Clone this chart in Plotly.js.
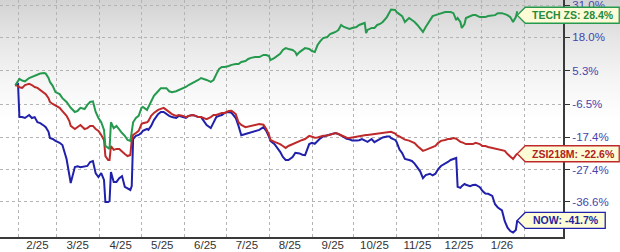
<!DOCTYPE html>
<html><head><meta charset="utf-8">
<script src="https://cdn.plot.ly/plotly-3.0.1.min.js"></script>
<style>
html,body{margin:0;padding:0;background:#fff;}
#chart{width:620px;height:252px;background:linear-gradient(to bottom,#d2d2d2 0px,#e6e6e6 40px,#f5f5f5 80px,#ffffff 120px);}
</style></head><body><div id="chart"></div>
<script>
// ---- data (percent change since start) ----
const dates = ['2025-01-30','2025-02-01','2025-02-02','2025-02-04','2025-02-06','2025-02-09','2025-02-11','2025-02-13','2025-02-15','2025-02-17','2025-02-20','2025-02-21','2025-02-23','2025-02-24','2025-02-26','2025-02-28',
'2025-03-03','2025-03-05','2025-03-08','2025-03-10','2025-03-11','2025-03-14','2025-03-16','2025-03-18','2025-03-21','2025-03-23','2025-03-25','2025-03-27','2025-03-29','2025-03-31',
'2025-04-02','2025-04-04','2025-04-05','2025-04-07','2025-04-08','2025-04-09','2025-04-11','2025-04-13','2025-04-15','2025-04-17','2025-04-19','2025-04-21','2025-04-23','2025-04-24','2025-04-25','2025-04-27','2025-04-29',
'2025-05-01','2025-05-02','2025-05-05','2025-05-06','2025-05-08','2025-05-10','2025-05-13','2025-05-15','2025-05-17','2025-05-19','2025-05-21','2025-05-23','2025-05-26','2025-05-28','2025-05-31',
'2025-06-02','2025-06-04','2025-06-07','2025-06-09','2025-06-11','2025-06-13','2025-06-15','2025-06-17','2025-06-20','2025-06-22','2025-06-24','2025-06-26','2025-06-28','2025-06-30',
'2025-07-03','2025-07-05','2025-07-08','2025-07-10','2025-07-12','2025-07-15','2025-07-17','2025-07-19','2025-07-22','2025-07-25','2025-07-28','2025-07-30',
'2025-08-01','2025-08-02','2025-08-05','2025-08-07','2025-08-09','2025-08-11','2025-08-13','2025-08-15','2025-08-18','2025-08-20','2025-08-21','2025-08-23','2025-08-25','2025-08-27','2025-08-30',
'2025-09-01','2025-09-03','2025-09-05','2025-09-07','2025-09-09','2025-09-12','2025-09-14','2025-09-16','2025-09-18','2025-09-20','2025-09-22','2025-09-24','2025-09-26','2025-09-28','2025-09-30',
'2025-10-03','2025-10-05','2025-10-07','2025-10-09','2025-10-10','2025-10-11','2025-10-14','2025-10-16','2025-10-18','2025-10-20','2025-10-22','2025-10-25','2025-10-27','2025-10-28','2025-10-31',
'2025-11-01','2025-11-03','2025-11-05','2025-11-07','2025-11-10','2025-11-12','2025-11-14','2025-11-16','2025-11-18','2025-11-20','2025-11-22','2025-11-25','2025-11-27','2025-11-29',
'2025-12-01','2025-12-03','2025-12-06','2025-12-08','2025-12-10','2025-12-12','2025-12-14','2025-12-15','2025-12-17','2025-12-18','2025-12-20','2025-12-21','2025-12-24','2025-12-26','2025-12-28','2025-12-31',
'2026-01-02','2026-01-04','2026-01-06','2026-01-09','2026-01-11','2026-01-13','2026-01-16','2026-01-18','2026-01-20','2026-01-22','2026-01-24','2026-01-26','2026-01-27'];

const techZS = [0.0,1.9,2.3,1.7,1.4,2.6,3.0,3.3,3.7,4.2,4.4,4.2,2.6,1.2,-0.2,-2.4,
-3.1,-4.5,-5.8,-7.1,-7.8,-9.2,-8.8,-7.8,-8.2,-6.8,-5.8,-5.6,-9.2,-11.2,
-12.6,-15.1,-20.2,-20.8,-21.1,-12.6,-14.5,-13.8,-15.1,-16.1,-17.0,-18.3,-18.6,-15.1,-12.6,-11.2,-10.5,
-7.8,-7.5,-8.5,-7.5,-5.5,-3.7,-2.1,-1.0,-1.0,-1.0,-2.1,-2.4,-2.1,-1.7,-1.0,
-0.6,0.1,0.8,1.2,1.9,2.6,2.3,1.9,1.2,1.9,4.0,5.9,6.6,6.6,
7.0,7.4,7.7,7.7,8.5,8.8,9.6,10.0,10.3,10.3,11.1,11.1,
10.7,9.2,10.0,10.7,11.5,13.0,13.7,13.4,13.0,12.2,11.1,12.2,13.0,13.7,13.4,
12.6,12.2,14.9,16.4,17.6,18.0,19.2,19.6,20.0,20.8,22.8,22.0,21.6,21.2,21.6,
22.0,22.8,23.2,23.6,19.6,20.8,21.6,21.6,22.8,23.2,24.0,26.0,28.1,29.1,28.9,
28.1,27.2,26.4,24.0,25.6,24.8,24.0,22.8,21.6,20.0,22.0,24.4,26.4,26.8,
27.2,27.6,28.1,28.1,28.1,27.6,24.8,25.6,24.0,21.6,23.2,25.6,26.4,26.8,26.8,26.0,
26.0,26.0,26.4,26.8,26.8,27.6,27.6,27.2,26.8,26.0,24.0,26.0,28.4];

const zsi218m = [0.0,-0.2,-0.7,-0.9,0.1,0.5,0.1,-0.6,-0.9,-1.7,-2.7,-3.1,-4.5,-5.8,-6.5,-7.1,
-7.8,-8.9,-10.5,-12.2,-13.8,-14.8,-14.2,-13.5,-14.8,-14.5,-13.8,-13.8,-14.8,-15.4,
-16.7,-18.3,-23.3,-24.5,-24.5,-20.2,-21.4,-21.1,-21.1,-22.0,-22.7,-23.3,-23.0,-18.3,-16.7,-16.1,-15.4,
-13.2,-12.9,-12.6,-12.2,-10.5,-9.5,-8.5,-8.2,-7.8,-8.5,-9.2,-9.9,-10.5,-10.2,-10.5,
-10.9,-10.5,-10.2,-10.5,-10.9,-10.9,-11.2,-11.6,-10.9,-10.2,-10.2,-9.9,-9.5,-9.5,
-8.9,-8.8,-9.9,-12.6,-13.5,-14.2,-14.0,-13.7,-13.4,-13.2,-13.4,-14.8,
-16.7,-18.3,-18.9,-19.2,-19.6,-20.2,-20.8,-20.2,-19.6,-19.2,-18.9,-18.6,-18.3,-18.0,-17.0,
-17.3,-17.6,-17.5,-17.2,-17.0,-16.9,-16.6,-16.4,-16.1,-16.4,-16.9,-17.2,-17.6,-17.7,-17.5,
-17.2,-17.0,-17.0,-16.7,-16.7,-16.7,-16.5,-16.4,-16.2,-16.1,-16.0,-15.8,-15.7,-15.7,-16.3,
-16.8,-17.2,-17.6,-18.2,-18.5,-18.8,-19.3,-20.2,-21.1,-21.7,-21.4,-20.8,-20.5,-20.2,
-19.2,-18.6,-18.3,-18.0,-18.0,-17.7,-17.9,-18.3,-18.9,-19.0,-19.3,-19.6,-19.6,-19.6,-19.2,-19.6,
-20.2,-20.2,-20.5,-20.8,-20.8,-21.1,-21.4,-21.7,-22.7,-23.6,-24.2,-23.0,-22.6];

const nowVals = [0.0,0.4,-10.9,-10.9,-11.2,-10.2,-11.2,-10.9,-12.6,-12.9,-13.8,-14.2,-15.7,-17.7,-18.0,-18.6,
-19.2,-19.9,-24.2,-28.7,-31.3,-26.6,-26.4,-26.7,-26.5,-26.3,-25.1,-24.8,-28.5,-29.6,
-28.4,-30.4,-36.7,-36.7,-36.4,-28.1,-31.0,-31.0,-29.9,-29.3,-32.4,-32.9,-33.3,-32.2,-18.0,-17.0,-16.7,
-16.0,-15.4,-14.8,-15.1,-13.8,-11.9,-9.9,-9.2,-9.2,-9.9,-10.5,-10.9,-11.2,-10.5,-10.9,
-11.2,-10.5,-10.2,-10.5,-10.9,-10.9,-12.2,-13.5,-14.5,-12.6,-10.9,-10.5,-10.2,-9.5,
-9.2,-9.5,-11.2,-13.8,-16.8,-16.4,-16.1,-15.8,-15.4,-15.1,-14.2,-15.4,
-17.3,-18.6,-19.6,-20.8,-22.0,-23.6,-24.5,-24.5,-23.6,-22.3,-22.3,-22.5,-22.9,-23.0,-19.6,
-19.2,-19.5,-18.6,-17.8,-17.2,-16.9,-16.6,-16.4,-16.1,-16.4,-16.9,-17.5,-17.9,-18.1,-18.5,
-18.5,-18.4,-18.0,-18.6,-18.7,-18.9,-18.0,-19.0,-18.5,-17.9,-17.5,-17.2,-17.2,-17.7,-18.3,
-18.9,-21.2,-22.4,-24.2,-24.5,-24.8,-25.6,-26.6,-27.9,-29.9,-29.0,-28.6,-29.1,-28.6,
-27.2,-26.3,-25.7,-25.1,-24.5,-24.2,-23.9,-32.4,-32.7,-32.2,-31.6,-31.8,-32.2,-31.9,-31.8,-32.5,
-33.6,-34.3,-34.4,-35.0,-37.3,-38.2,-39.0,-41.9,-43.6,-44.5,-44.9,-44.2,-41.7];

const seriesNames = ['TECH ZS', 'ZSI218M', 'NOW'];
const yTicks = [31.0, 18.0, 5.3, -6.5, -17.4, -27.4, -36.6];
const monthStarts = ['2025-02-01','2025-03-01','2025-04-01','2025-05-01','2025-06-01','2025-07-01','2025-08-01','2025-09-01','2025-10-01','2025-11-01','2025-12-01','2026-01-01','2026-02-01'];
const xTickDates = ['2025-02-15','2025-03-16','2025-04-16','2025-05-16','2025-06-16','2025-07-16','2025-08-16','2025-09-16','2025-10-16','2025-11-16','2025-12-16','2026-01-16'];
const xTickLabels = ['2/25','3/25','4/25','5/25','6/25','7/25','8/25','9/25','10/25','11/25','12/25','1/26'];

// ---- styling ----
// The source axis is logarithmic about a shifted base (equal-looking gridline spacing).
const LOG_BASE = 168.8;
const X_RANGE = ['2025-01-19', '2026-03-01'];
const Y_RANGE = [2.08904, 2.30516];
const colors = ['#25994d', '#be2a2a', '#2020aa'];
const textColors = ['#278a3c', '#b02222', '#2424a0'];
const tagWidths = [102, 102, 88];
const tagShift = [-4, 0, 0];   // px; keeps the top tag inside the frame like the source
const allVals = [techZS, zsi218m, nowVals];

const toAxis = v => v + LOG_BASE;

// draw order: NOW under, index, then TECH ZS on top
const order = [2, 1, 0];
const traces = order.map(i => ({
  type: 'scatter', mode: 'lines', x: dates, y: allVals[i].map(toAxis),
  name: seriesNames[i], line: {color: colors[i], width: 2}, hoverinfo: 'skip'
}));

const t0 = Date.parse(X_RANGE[0]), t1 = Date.parse(X_RANGE[1]);
const tipX = (Date.parse(dates[dates.length - 1]) - t0) / (t1 - t0);

const shapes = [], annotations = [];
allVals.forEach((vals, i) => {
  const last = vals[vals.length - 1];
  const w = tagWidths[i], d = 8, h = 8, s = tagShift[i];
  shapes.push({
    type: 'path', xref: 'paper', yref: 'y', xsizemode: 'pixel', ysizemode: 'pixel',
    xanchor: tipX, yanchor: toAxis(last),
    path: `M0,${s} L${d},${h + s} L${w},${h + s} L${w},${-h + s} L${d},${-h + s} Z`,
    fillcolor: '#fdfcd6', line: {color: colors[i], width: 1.3}, layer: 'above'
  });
  annotations.push({
    xref: 'paper', yref: 'y', x: tipX, y: Math.log10(toAxis(last)),
    xanchor: 'center', yanchor: 'middle', xshift: (d + w) / 2 + 1, yshift: s, showarrow: false,
    text: '<b>' + seriesNames[i] + ': ' + last.toFixed(1) + '%</b>',
    font: {family: 'Liberation Sans, Arial, sans-serif', size: 10.5, color: textColors[i]}
  });
});

const gridCol = '#b4b4b4';
const layout = {
  width: 620, height: 252,
  margin: {l: 0, r: 57, t: 0, b: 15, pad: 0},
  paper_bgcolor: 'rgba(0,0,0,0)', plot_bgcolor: 'rgba(0,0,0,0)',
  showlegend: false,
  font: {family: 'Liberation Sans, Arial, sans-serif', size: 11.5, color: '#333'},
  xaxis: {
    type: 'date', range: X_RANGE, fixedrange: true,
    tickmode: 'array', tickvals: xTickDates, ticktext: xTickLabels,
    ticks: '', showgrid: false, zeroline: false, ticklabelstandoff: -4,
    showline: true, linecolor: '#3a3a3a', linewidth: 2,
    tickfont: {size: 11.5, color: '#333'},
    minor: {tickmode: 'array', tickvals: monthStarts, showgrid: true, gridcolor: gridCol, gridwidth: 1, griddash: 'dot', ticks: ''}
  },
  yaxis: {
    type: 'log', side: 'right', range: Y_RANGE, fixedrange: true,
    tickmode: 'array', tickvals: yTicks.map(toAxis), ticktext: yTicks.map(v => v.toFixed(1) + '%'),
    ticks: 'outside', ticklen: 5, tickwidth: 1, tickcolor: '#333', ticklabeloverflow: 'allow',
    showline: true, linecolor: '#3a3a3a', linewidth: 2,
    showgrid: true, gridcolor: gridCol, gridwidth: 1, griddash: 'dot', zeroline: false,
    tickfont: {size: 11.5, color: '#4545ad'}
  },
  shapes: shapes,
  annotations: annotations
};

Plotly.newPlot('chart', traces, layout, {displayModeBar: false, staticPlot: true});
</script></body></html>
